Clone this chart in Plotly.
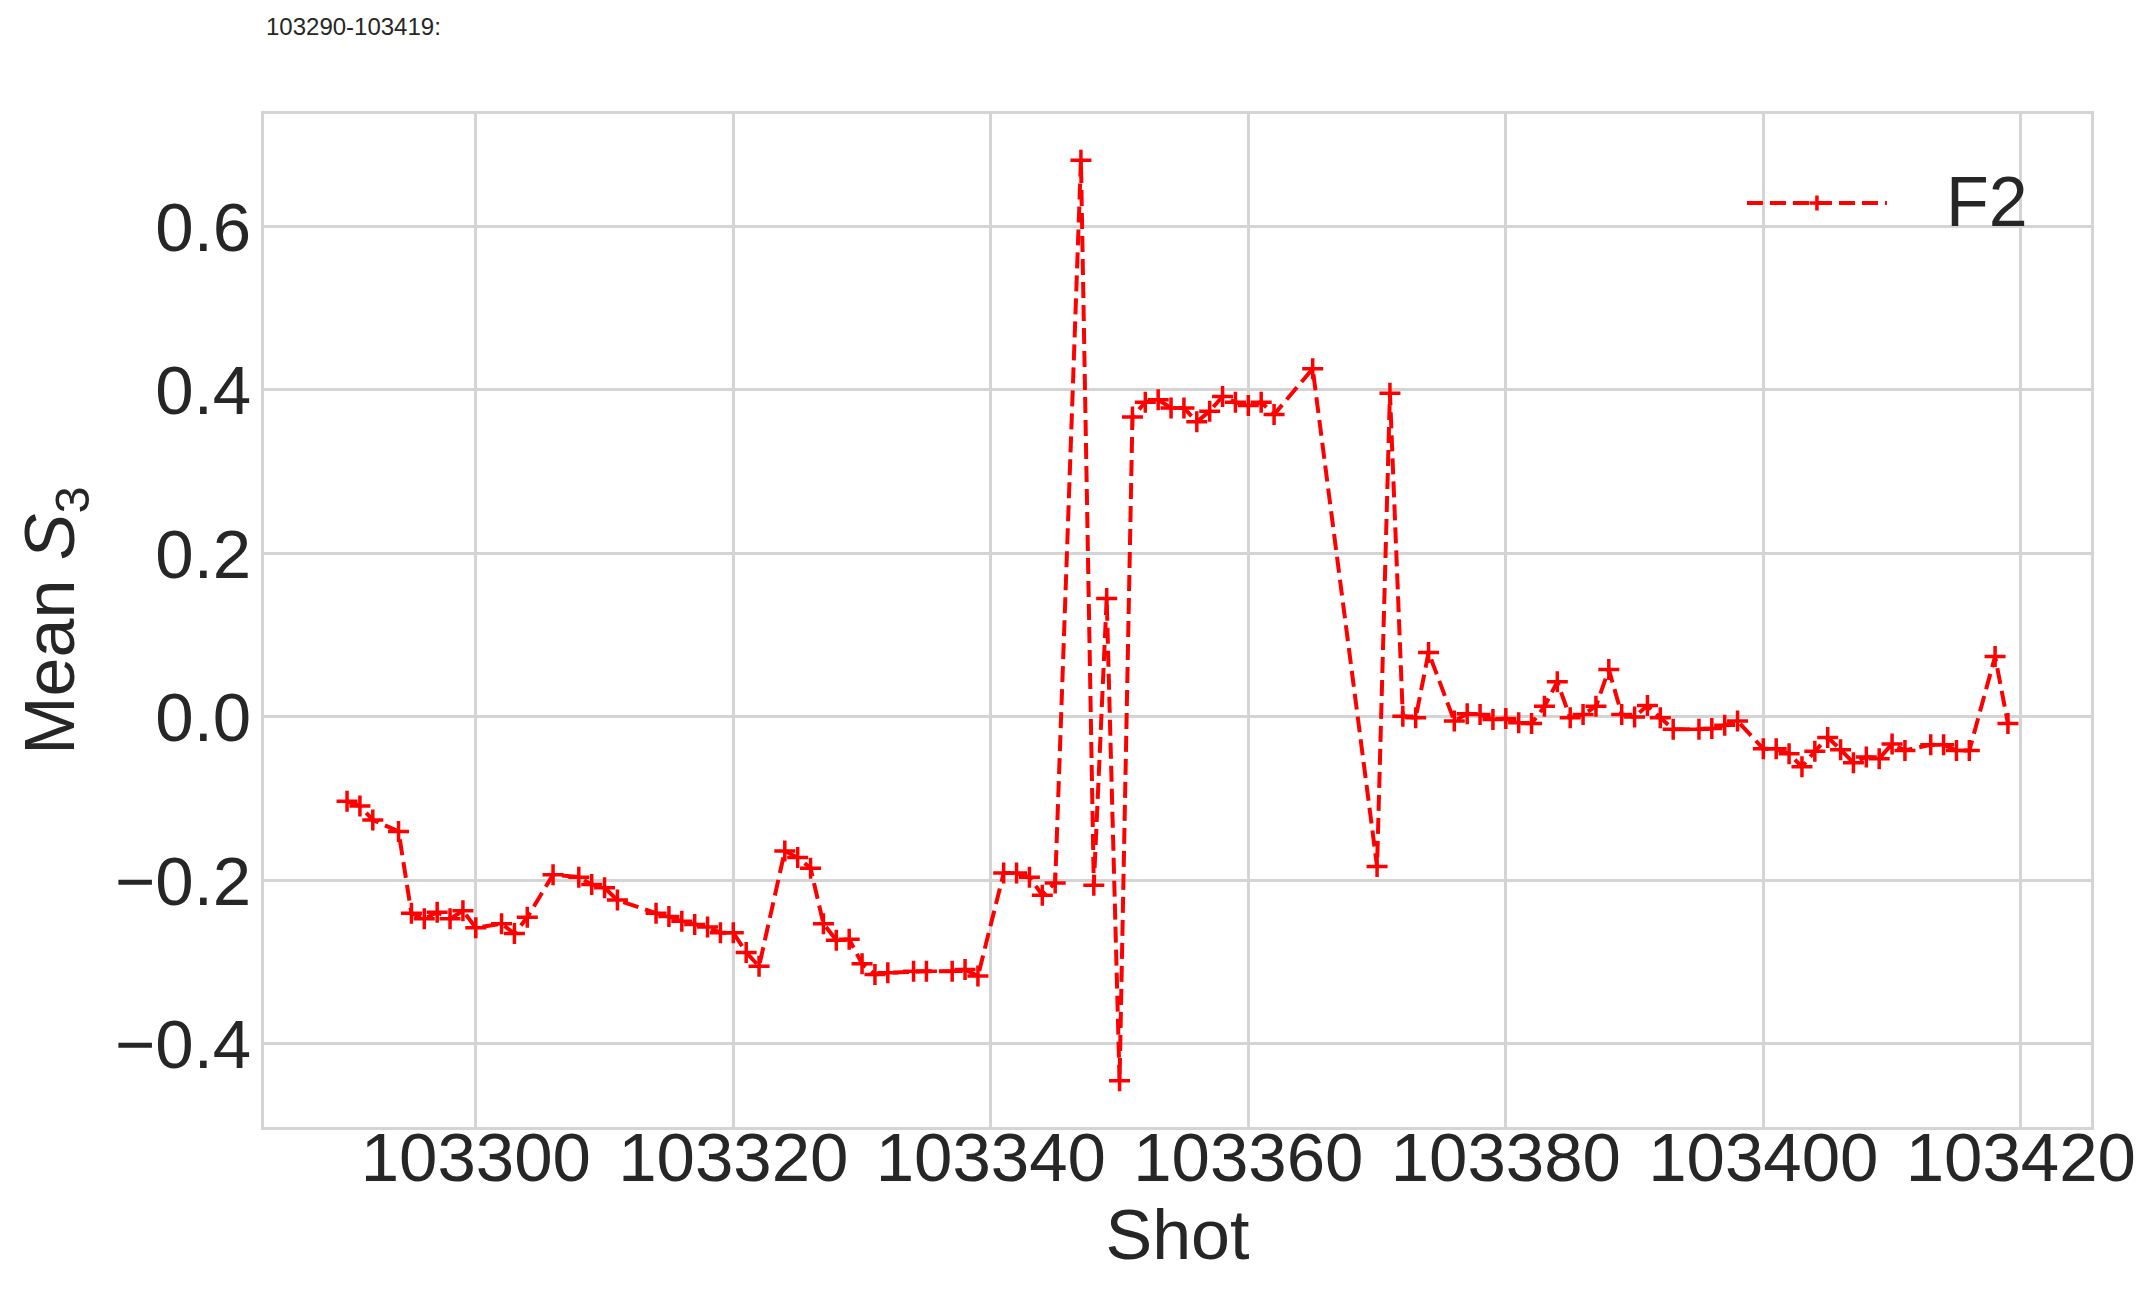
import plotly.graph_objects as go

shots = [
    103290, 103291, 103292, 103294, 103295, 103296, 103297, 103298, 103299, 103300,
    103302, 103303, 103304, 103306, 103308, 103309, 103310, 103311, 103314, 103315,
    103316, 103317, 103318, 103319, 103320, 103321, 103322, 103324, 103325, 103326,
    103327, 103328, 103329, 103330, 103331, 103332, 103334, 103335, 103337, 103338,
    103339, 103341, 103342, 103343, 103344, 103345, 103347, 103348, 103349, 103350,
    103351, 103352, 103353, 103354, 103355, 103356, 103357, 103358, 103359, 103360,
    103361, 103362, 103365, 103370, 103371, 103372, 103373, 103374, 103376, 103377,
    103378, 103379, 103380, 103381, 103382, 103383, 103384, 103385, 103386, 103387,
    103388, 103389, 103390, 103391, 103392, 103393, 103395, 103396, 103397, 103398,
    103400, 103401, 103402, 103403, 103404, 103405, 103406, 103407, 103408, 103409,
    103410, 103411, 103413, 103414, 103415, 103416, 103418, 103419,
]
mean_s3 = [
    -0.103, -0.109, -0.126, -0.140, -0.240, -0.247, -0.239, -0.247, -0.237, -0.258,
    -0.253, -0.265, -0.245, -0.193, -0.196, -0.205, -0.209, -0.224, -0.240, -0.244,
    -0.250, -0.254, -0.257, -0.264, -0.264, -0.288, -0.305, -0.164, -0.172, -0.185,
    -0.253, -0.273, -0.272, -0.302, -0.315, -0.313, -0.311, -0.311, -0.311, -0.309,
    -0.317, -0.191, -0.191, -0.196, -0.218, -0.203, 0.681, -0.206, 0.145, -0.445,
    0.367, 0.385, 0.388, 0.378, 0.378, 0.361, 0.374, 0.392, 0.385, 0.381,
    0.385, 0.370, 0.426, -0.183, 0.396, 0.001, -0.001, 0.079, -0.005, 0.004,
    0.003, -0.003, -0.002, -0.007, -0.008, 0.013, 0.043, -0.001, 0.003, 0.013,
    0.058, 0.003, 0.000, 0.014, -0.001, -0.015, -0.015, -0.014, -0.010, -0.005,
    -0.039, -0.039, -0.045, -0.061, -0.042, -0.025, -0.040, -0.056, -0.049, -0.051,
    -0.033, -0.041, -0.034, -0.034, -0.041, -0.041, 0.074, -0.008,
]

x_ticks = [103300, 103320, 103340, 103360, 103380, 103400, 103420]
x_ticktext = [str(v) for v in x_ticks]
y_ticks = [-0.4, -0.2, 0.0, 0.2, 0.4, 0.6]
y_ticktext = ["\u22120.4", "\u22120.2", "0.0", "0.2", "0.4", "0.6"]

font = "Liberation Sans, Arial, sans-serif"
ink = "#262626"
grid = "#d4d4d4"
dash = "16px,7px"

fig = go.Figure(go.Scatter(
    x=shots, y=mean_s3, name="F2", mode="lines+markers",
    line=dict(color="red", width=4, dash=dash),
    marker=dict(symbol="cross-thin", size=15, line=dict(color="red", width=3.5)),
    showlegend=False,
))

# hand-made legend (long dashed sample like matplotlib's)
fig.add_shape(type="line", xref="paper", yref="paper", x0=0.8117, x1=0.8883, y0=0.9121, y1=0.9121,
              line=dict(color="red", width=4, dash=dash))
fig.add_shape(type="line", xref="paper", yref="paper", x0=0.8459, x1=0.8541, y0=0.9121, y1=0.9121,
              line=dict(color="red", width=3.5))
fig.add_shape(type="line", xref="paper", yref="paper", x0=0.85, x1=0.85, y0=0.9047, y1=0.9195,
              line=dict(color="red", width=3.5))
fig.add_annotation(text="F2", xref="paper", yref="paper", x=0.9195, y=0.9131,
                   xanchor="left", yanchor="middle", showarrow=False,
                   font=dict(family=font, size=70, color=ink))

# the page body adds an 8px offset, so the figure is 8px smaller each way
fig.update_layout(
    width=2147, height=1286,
    paper_bgcolor="white", plot_bgcolor="white",
    margin=dict(l=256, r=64, t=106, b=167),
    font=dict(family=font, color=ink),
    title=dict(text="103290-103419:", x=258 / 2147, xanchor="left", xref="container",
               y=1 - 19 / 1286, yanchor="middle", font=dict(size=24, color=ink)),
)
fig.update_xaxes(
    range=[103283.55, 103425.45], tickvals=x_ticks, ticktext=x_ticktext, tickfont=dict(size=69),
    showgrid=True, gridcolor=grid, gridwidth=3, zeroline=False,
    showline=True, linecolor=grid, linewidth=3, mirror=True,
    ticks="", ticklabelstandoff=-32, automargin=False,
    title=dict(text="Shot", font=dict(size=70), standoff=8),
)
fig.update_yaxes(
    range=[-0.5016, 0.7376], tickvals=y_ticks, ticktext=y_ticktext, tickfont=dict(size=69),
    showgrid=True, gridcolor=grid, gridwidth=3, zeroline=False,
    showline=True, linecolor=grid, linewidth=3, mirror=True,
    ticks="", ticklabelstandoff=-4, automargin=False,
    title=dict(text="Mean <i>S</i><sub>3</sub>", font=dict(size=70), standoff=18),
)

fig.write_html("out.html")
